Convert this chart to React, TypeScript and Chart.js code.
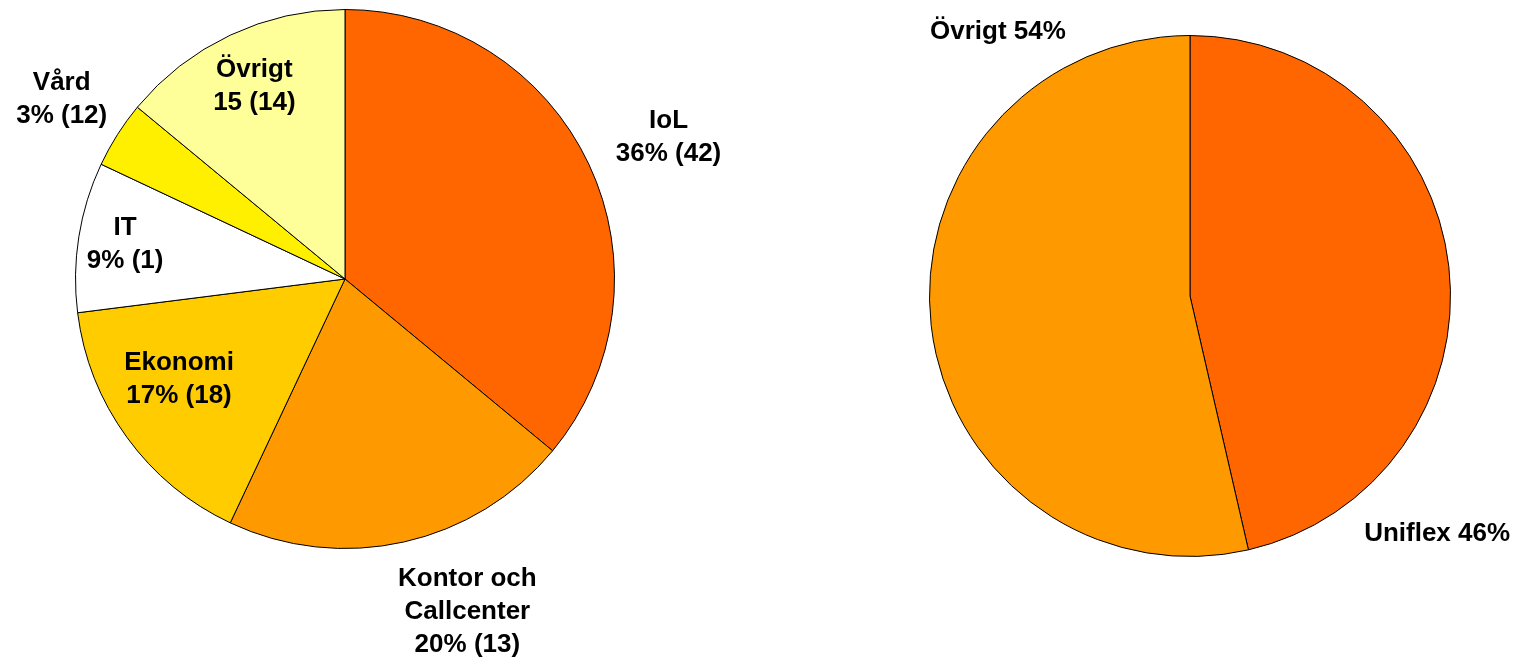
import React, { useEffect, useRef } from "react";
import { Chart, registerables } from "chart.js";

Chart.register(...registerables);

// Left pie: occupational areas
const leftCategories = ["IoL", "Kontor och Callcenter", "Ekonomi", "IT", "Vård", "Övrigt"];
const leftValues = [36, 21, 16, 9, 4, 14];
const leftLabelLines = [
  ["IoL", "36% (42)"],
  ["Kontor och", "Callcenter", "20% (13)"],
  ["Ekonomi", "17% (18)"],
  ["IT", "9% (1)"],
  ["Vård", "3% (12)"],
  ["Övrigt", "15 (14)"],
];
const leftColors = ["#FF6600", "#FF9900", "#FFCC00", "#FFFFFF", "#FFF000", "#FFFF99"];

// Right pie
const rightCategories = ["Uniflex", "Övrigt"];
const rightValues = [46.4, 53.6];
const rightLabelLines = [["Uniflex 46%"], ["Övrigt 54%"]];
const rightColors = ["#FF6600", "#FF9900"];

// label placement: angle offset (deg) from slice mid-angle, radial factor
const leftPlacement = [
  { da: 1.6, f: 1.31 },
  { da: -7.6, f: 1.315 },
  { da: 4.8, f: 0.72 },
  { da: 0, f: 0.826 },
  { da: 0, f: 1.245 },
  { da: 0, f: 0.79 },
];
const rightPlacement = [
  { da: 50.4, f: 1.317 },
  { da: 60.5, f: 1.255 },
];

const FONT = 'bold 26px "Liberation Sans", Arial, sans-serif';
const LINE_H = 33;

function labelPlugin(lines: string[][], placement: { da: number; f: number }[]) {
  return {
    id: "sliceLabels",
    afterDatasetsDraw(chart: any) {
      const ctx = chart.ctx;
      const meta = chart.getDatasetMeta(0);
      ctx.save();
      ctx.font = FONT;
      ctx.fillStyle = "#000";
      ctx.textAlign = "center";
      ctx.textBaseline = "middle";
      meta.data.forEach((arc: any, i: number) => {
        const p = arc.getProps(["x", "y", "startAngle", "endAngle", "outerRadius"], true);
        const mid = (p.startAngle + p.endAngle) / 2 + (placement[i].da * Math.PI) / 180;
        const r = p.outerRadius * placement[i].f;
        const cx = p.x + Math.cos(mid) * r;
        const cy = p.y + Math.sin(mid) * r;
        const ls = lines[i];
        const top = cy - ((ls.length - 1) * LINE_H) / 2;
        ls.forEach((t, k) => ctx.fillText(t, cx, top + k * LINE_H));
      });
      ctx.restore();
    },
  };
}

function PieCanvas(props: {
  labels: string[];
  values: number[];
  colors: string[];
  lines: string[][];
  placement: { da: number; f: number }[];
  padding: { left: number; right: number; top: number; bottom: number };
  style: React.CSSProperties;
  width: number;
  height: number;
}) {
  const ref = useRef<HTMLCanvasElement | null>(null);
  useEffect(() => {
    if (!ref.current) return;
    const chart = new Chart(ref.current, {
      type: "pie",
      data: {
        labels: props.labels,
        datasets: [
          {
            data: props.values,
            backgroundColor: props.colors,
            borderColor: "#000000",
            borderWidth: 1,
            hoverOffset: 0,
          },
        ],
      },
      options: {
        responsive: false,
        animation: false,
        layout: { padding: props.padding },
        plugins: { legend: { display: false }, tooltip: { enabled: false } },
      },
      plugins: [labelPlugin(props.lines, props.placement)],
    } as any);
    return () => chart.destroy();
  }, []);
  return <canvas ref={ref} width={props.width} height={props.height} style={props.style} />;
}

export default function App() {
  return (
    <div style={{ position: "absolute", left: 0, top: 0, width: 1524, height: 663, background: "#fff" }}>
      <PieCanvas
        labels={leftCategories}
        values={leftValues}
        colors={leftColors}
        lines={leftLabelLines}
        placement={leftPlacement}
        padding={{ left: 75, right: 145, top: 9, bottom: 114 }}
        width={760}
        height={663}
        style={{ position: "absolute", left: 0, top: 0, width: 760, height: 663 }}
      />
      <PieCanvas
        labels={rightCategories}
        values={rightValues}
        colors={rightColors}
        lines={rightLabelLines}
        placement={rightPlacement}
        padding={{ left: 169, right: 73, top: 35, bottom: 106 }}
        width={764}
        height={663}
        style={{ position: "absolute", left: 760, top: 0, width: 764, height: 663 }}
      />
    </div>
  );
}
